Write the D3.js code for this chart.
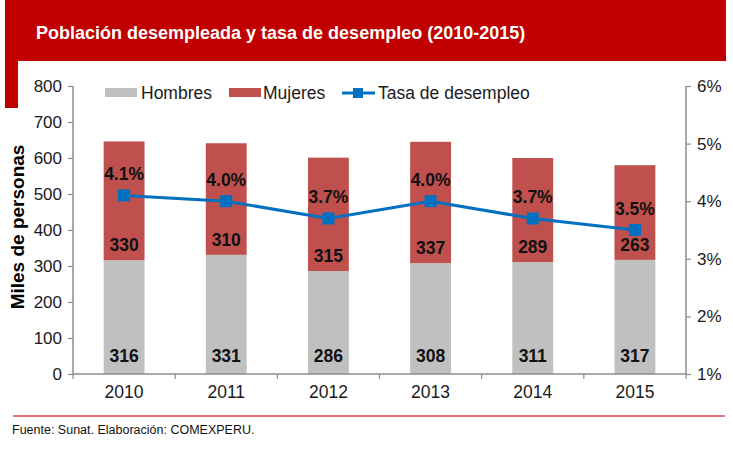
<!DOCTYPE html>
<html>
<head>
<meta charset="utf-8">
<script src="https://cdn.jsdelivr.net/npm/d3@7"></script>
<style>
  body { margin: 0; background: #fff; }
  text { font-family: "Liberation Sans", Arial, sans-serif; }
</style>
</head>
<body>
<script>
// datos
var years = ["2010", "2011", "2012", "2013", "2014", "2015"];
var hombres = [316, 331, 286, 308, 311, 317];
var mujeres = [330, 310, 315, 337, 289, 263];
var tasa = [4.1, 4.0, 3.7, 4.0, 3.7, 3.5];
var leftTicks = [0, 100, 200, 300, 400, 500, 600, 700, 800];
var rightTicks = [1, 2, 3, 4, 5, 6];

var w = 733, h = 460;
var pLeft = 73, pRight = 686, pTop = 86, pBottom = 374;

var svg = d3.select("body").append("svg")
    .attr("width", w)
    .attr("height", h);

// cabecera roja
svg.append("rect").attr("x", 5).attr("y", 0).attr("width", 721).attr("height", 61).attr("fill", "#C00000");
svg.append("rect").attr("x", 5).attr("y", 0).attr("width", 13).attr("height", 108).attr("fill", "#C00000");
svg.append("text")
    .attr("x", 36).attr("y", 39)
    .attr("fill", "#fff")
    .attr("font-size", "18px")
    .attr("font-weight", "bold")
    .text("Población desempleada y tasa de desempleo (2010-2015)");

var xScale = d3.scaleBand()
    .domain(years)
    .range([pLeft, pRight])
    .paddingInner(0.6)
    .paddingOuter(0.3);

var yScale = d3.scaleLinear().domain([0, 800]).range([pBottom, pTop]);
var rScale = d3.scaleLinear().domain([1, 6]).range([pBottom, pTop]);

// barras apiladas
var stack = years.map(function(d, i) { return { year: d, h: hombres[i], m: mujeres[i], t: tasa[i] }; });

svg.selectAll("rect.hom")
    .data(stack).enter().append("rect")
    .attr("class", "hom")
    .attr("x", function(d) { return xScale(d.year); })
    .attr("width", xScale.bandwidth())
    .attr("y", function(d) { return yScale(d.h); })
    .attr("height", function(d) { return yScale(0) - yScale(d.h); })
    .attr("fill", "#C0C0C0");

svg.selectAll("rect.muj")
    .data(stack).enter().append("rect")
    .attr("class", "muj")
    .attr("x", function(d) { return xScale(d.year); })
    .attr("width", xScale.bandwidth())
    .attr("y", function(d) { return yScale(d.h + d.m); })
    .attr("height", function(d) { return yScale(d.h) - yScale(d.h + d.m); })
    .attr("fill", "#C0504D");

// ejes
var axisColor = "#8C8C8C";
var yAxis = d3.axisLeft(yScale).tickValues(leftTicks).tickSize(5).tickPadding(6);
var gy = svg.append("g").attr("transform", "translate(" + pLeft + ",0)").call(yAxis);

var rAxis = d3.axisRight(rScale).tickValues(rightTicks).tickSize(5).tickPadding(6)
    .tickFormat(function(d) { return d + "%"; });
var gr = svg.append("g").attr("transform", "translate(" + pRight + ",0)").call(rAxis);

[gy, gr].forEach(function(g) {
  g.select(".domain").attr("stroke", axisColor).attr("stroke-width", 1.5)
    .attr("d", "M0," + pTop + "V" + pBottom);
  g.selectAll(".tick line").attr("stroke", axisColor).attr("stroke-width", 1.2);
  g.selectAll(".tick text").attr("font-size", "17px").attr("fill", "#1a1a1a")
    .attr("font-family", "'Liberation Sans', Arial, sans-serif");
});

// eje x
svg.append("line")
    .attr("x1", pLeft).attr("x2", pRight)
    .attr("y1", pBottom).attr("y2", pBottom)
    .attr("stroke", axisColor).attr("stroke-width", 1.5);
svg.selectAll("line.xt")
    .data(d3.range(years.length + 1)).enter().append("line")
    .attr("class", "xt")
    .attr("x1", function(i) { return pLeft + i * xScale.step(); })
    .attr("x2", function(i) { return pLeft + i * xScale.step(); })
    .attr("y1", pBottom).attr("y2", pBottom + 5)
    .attr("stroke", axisColor).attr("stroke-width", 1.2);
svg.selectAll("text.xl")
    .data(years).enter().append("text")
    .attr("class", "xl")
    .attr("x", function(d) { return xScale(d) + xScale.bandwidth() / 2; })
    .attr("y", 398)
    .attr("text-anchor", "middle")
    .attr("font-size", "17.5px")
    .attr("fill", "#1a1a1a")
    .text(function(d) { return d; });

// titulo eje y
svg.append("text")
    .attr("transform", "translate(24,227) rotate(-90)")
    .attr("text-anchor", "middle")
    .attr("font-size", "19px")
    .attr("font-weight", "bold")
    .attr("fill", "#000")
    .text("Miles de personas");

// linea de tasa
var line = d3.line()
    .x(function(d) { return xScale(d.year) + xScale.bandwidth() / 2; })
    .y(function(d) { return rScale(d.t); });

svg.append("path")
    .datum(stack)
    .attr("d", line)
    .attr("fill", "none")
    .attr("stroke", "#0070C0")
    .attr("stroke-width", 3);

svg.selectAll("rect.mk")
    .data(stack).enter().append("rect")
    .attr("class", "mk")
    .attr("x", function(d) { return xScale(d.year) + xScale.bandwidth() / 2 - 6; })
    .attr("y", function(d) { return rScale(d.t) - 6; })
    .attr("width", 12).attr("height", 12)
    .attr("fill", "#0070C0");

// etiquetas de datos
function label(cls, yfn, txt) {
  svg.selectAll("text." + cls)
    .data(stack).enter().append("text")
    .attr("class", cls)
    .attr("x", function(d) { return xScale(d.year) + xScale.bandwidth() / 2; })
    .attr("y", yfn)
    .attr("text-anchor", "middle")
    .attr("font-size", "17.5px")
    .attr("font-weight", "bold")
    .attr("fill", "#111")
    .text(txt);
}
label("lh", function(d) { return yScale(0) - 12; }, function(d) { return d.h; });
label("lm", function(d) { return yScale(d.h) - 9; }, function(d) { return d.m; });
label("lt", function(d) { return rScale(d.t) - 15; }, function(d) { return d.t.toFixed(1) + "%"; });

// leyenda
var lg = svg.append("g");
lg.append("rect").attr("x", 105).attr("y", 88).attr("width", 32).attr("height", 9).attr("fill", "#C0C0C0");
lg.append("text").attr("x", 141).attr("y", 99).attr("font-size", "17.5px").attr("fill", "#1a1a1a").text("Hombres");
lg.append("rect").attr("x", 229).attr("y", 88).attr("width", 32).attr("height", 9).attr("fill", "#C0504D");
lg.append("text").attr("x", 263).attr("y", 99).attr("font-size", "17.5px").attr("fill", "#1a1a1a").text("Mujeres");
lg.append("line").attr("x1", 342).attr("x2", 375).attr("y1", 93).attr("y2", 93).attr("stroke", "#0070C0").attr("stroke-width", 3);
lg.append("rect").attr("x", 353).attr("y", 88).attr("width", 10).attr("height", 10).attr("fill", "#0070C0");
lg.append("text").attr("x", 378).attr("y", 99).attr("font-size", "17.5px").attr("fill", "#1a1a1a").text("Tasa de desempleo");

// pie
svg.append("line")
    .attr("x1", 13).attr("x2", 725)
    .attr("y1", 416).attr("y2", 416)
    .attr("stroke", "#E0484C").attr("stroke-width", 1.5);
svg.append("text")
    .attr("x", 12).attr("y", 434)
    .attr("font-size", "12.5px")
    .attr("fill", "#111")
    .text("Fuente: Sunat. Elaboración: COMEXPERU.");
</script>
</body>
</html>
